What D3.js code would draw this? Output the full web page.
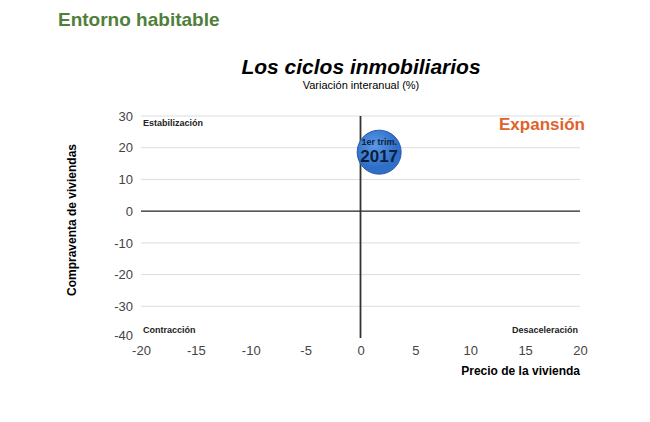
<!DOCTYPE html><html><head><meta charset="utf-8"><script src="https://cdn.jsdelivr.net/npm/d3@7"></script>
<style>body{margin:0;background:#fff}text{font-family:"Liberation Sans",Arial,sans-serif}</style></head><body>
<svg id="c" width="650" height="422"></svg>
<script>
const xTicks=[-20,-15,-10,-5,0,5,10,15,20];
const yTicks=[30,20,10,0,-10,-20,-30,-40];
const points=[{x:1.7,y:18.6,top:"1er trim.",bottom:"2017"}];
const quadrants=[{t:"Estabilización",x:-20,y:30,a:"start",dy:10},{t:"Contracción",x:-20,y:-40,a:"start",dy:-5},{t:"Desaceleración",x:20,y:-40,a:"end",dy:-5}];
const svg=d3.select("#c");
const x=d3.scaleLinear().domain([-20,20]).range([141,580]);
const y=d3.scaleLinear().domain([-40,30]).range([338,116]);
svg.append("text").attr("x",58).attr("y",26).attr("fill","#4f7f3a").attr("font-size",19).attr("font-weight","bold").text("Entorno habitable");
svg.append("text").attr("x",361).attr("y",74).attr("text-anchor","middle").attr("font-size",21).attr("font-weight","bold").attr("font-style","italic").text("Los ciclos inmobiliarios");
svg.append("text").attr("x",361).attr("y",89).attr("text-anchor","middle").attr("font-size",11).text("Variación interanual (%)");
svg.selectAll(".g").data(yTicks.filter(d=>d!==0&&d!==-40)).join("line").attr("x1",x(-20)).attr("x2",x(20)).attr("y1",d=>y(d)).attr("y2",d=>y(d)).attr("stroke","#ddd").attr("stroke-width",1);
svg.append("line").attr("x1",x(-20)).attr("x2",x(20)).attr("y1",y(0)).attr("y2",y(0)).attr("stroke","#222").attr("stroke-width",1.2);
svg.append("line").attr("x1",x(0)).attr("x2",x(0)).attr("y1",y(30)).attr("y2",y(-40)).attr("stroke","#333").attr("stroke-width",1.8);
const ya=svg.append("g").attr("transform",`translate(${x(-20)-8},0)`).call(d3.axisLeft(y).tickValues(yTicks).tickSize(0).tickPadding(0).tickFormat(d=>String(d)));
ya.select(".domain").remove();
ya.selectAll("text").attr("font-size",13).attr("fill","#444").attr("font-family","Liberation Sans,Arial,sans-serif");
ya.selectAll(".tick").filter(d=>d===-40).select("text").attr("dy","0.1em");
const xa=svg.append("g").attr("transform",`translate(0,${y(-40)+6})`).call(d3.axisBottom(x).tickValues(xTicks).tickSize(0).tickPadding(2).tickFormat(d=>String(d)));
xa.select(".domain").remove();
xa.selectAll("text").attr("font-size",13).attr("fill","#444").attr("font-family","Liberation Sans,Arial,sans-serif");
svg.append("text").attr("x",580).attr("y",375).attr("text-anchor","end").attr("font-size",12).attr("font-weight","bold").text("Precio de la vivienda");
svg.append("text").attr("transform","translate(76,220) rotate(-90)").attr("text-anchor","middle").attr("font-size",12).attr("font-weight","bold").text("Compraventa de viviendas");
quadrants.forEach(q=>svg.append("text").attr("x",x(q.x)+(q.a==="start"?2:-2)).attr("y",y(q.y)+q.dy).attr("text-anchor",q.a).attr("font-size",9).attr("font-weight","bold").attr("fill","#222").text(q.t));
svg.append("text").attr("x",585).attr("y",130).attr("text-anchor","end").attr("font-size",17).attr("font-weight","bold").attr("fill","#e0622a").text("Expansión");
const defs=svg.append("defs").append("radialGradient").attr("id","bg").attr("cx","40%").attr("cy","35%");
defs.append("stop").attr("offset","0%").attr("stop-color","#5b9ae6");
defs.append("stop").attr("offset","100%").attr("stop-color","#2f6fc8");
points.forEach(p=>{
 svg.append("circle").attr("cx",x(p.x)).attr("cy",y(p.y)).attr("r",22).attr("fill","url(#bg)").attr("stroke","#2a5aa8").attr("stroke-width",1);
 svg.append("text").attr("x",x(p.x)).attr("y",y(p.y)-7).attr("text-anchor","middle").attr("font-size",9).attr("font-weight","bold").attr("fill","#0d1e3a").text(p.top);
 svg.append("text").attr("x",x(p.x)).attr("y",y(p.y)+10).attr("text-anchor","middle").attr("font-size",17).attr("font-weight","bold").attr("fill","#0d1e3a").text(p.bottom);
});
</script></body></html>
